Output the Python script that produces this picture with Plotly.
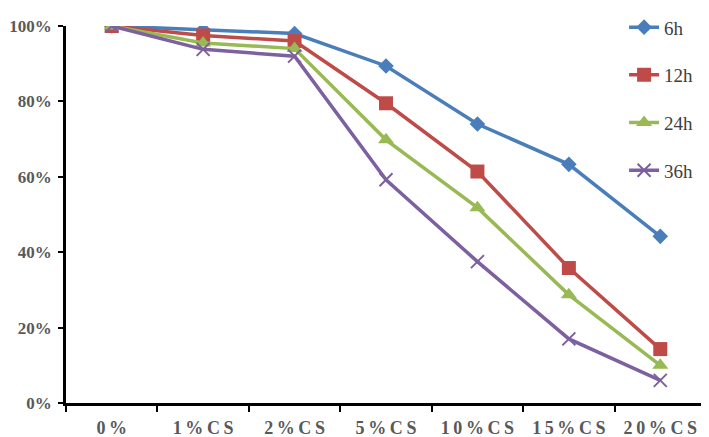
import plotly.graph_objects as go

categories = ["0%", "1%CS", "2%CS", "5%CS", "10%CS", "15%CS", "20%CS"]
series_names = ["6h", "12h", "24h", "36h"]
v_6h = [1.00, 0.99, 0.98, 0.894, 0.74, 0.633, 0.442]
v_12h = [1.00, 0.975, 0.96, 0.795, 0.614, 0.358, 0.143]
v_24h = [1.00, 0.955, 0.94, 0.698, 0.518, 0.287, 0.10]
v_36h = [1.00, 0.938, 0.92, 0.592, 0.375, 0.17, 0.06]
y_ticks = [0, 0.2, 0.4, 0.6, 0.8, 1.0]

colors = ["#4A7EBB", "#BE4B48", "#98B954", "#7D60A0"]
symbols = ["diamond", "square", "triangle-up", "x-thin"]
sizes = [12, 14, 14, 13]

# slightly spaced out labels like the original
tick_text = ["\u2009".join(c) for c in categories]

fig = go.Figure()
for i, (name, vals) in enumerate(zip(series_names, [v_6h, v_12h, v_24h, v_36h])):
    marker = dict(symbol=symbols[i], size=sizes[i], color=colors[i])
    if symbols[i] == "x-thin":
        marker["line"] = dict(color=colors[i], width=2)
    fig.add_trace(go.Scatter(
        x=categories, y=vals, name=name, mode="lines+markers",
        line=dict(color=colors[i], width=3.5), marker=marker,
        legendgroup=name,
    ))

font_serif = "Liberation Serif, Times New Roman, serif"

# page body adds an 8px offset, so margins are shifted accordingly
fig.update_layout(
    width=709, height=437,
    margin=dict(l=58, r=11, t=18, b=42, autoexpand=False),
    plot_bgcolor="white", paper_bgcolor="white",
    showlegend=True,
    legend=dict(x=0.872, y=1.047, xanchor="left", yanchor="top",
                font=dict(family=font_serif, size=19, color="#404040"),
                tracegroupgap=20, bgcolor="rgba(0,0,0,0)"),
)
fig.update_xaxes(
    type="category", range=[-0.5, 6.5], tickson="boundaries",
    tickvals=categories, ticktext=tick_text, automargin=False, tickangle=0,
    ticks="outside", ticklen=6, tickwidth=2, tickcolor="black",
    ticklabelstandoff=7,
    showline=True, linecolor="black", linewidth=2.5, showgrid=False,
    tickfont=dict(family=font_serif, size=18, color="#595959", weight="bold"),
)
fig.update_yaxes(
    range=[0, 1], tickvals=y_ticks, tickformat=".0%", automargin=False,
    ticks="outside", ticklen=5, tickwidth=2, tickcolor="black",
    ticklabelstandoff=3,
    showline=True, linecolor="black", linewidth=2.5, showgrid=False, zeroline=False,
    tickfont=dict(family=font_serif, size=17, color="#595959", weight="bold"),
)

fig.write_html("out.html")
